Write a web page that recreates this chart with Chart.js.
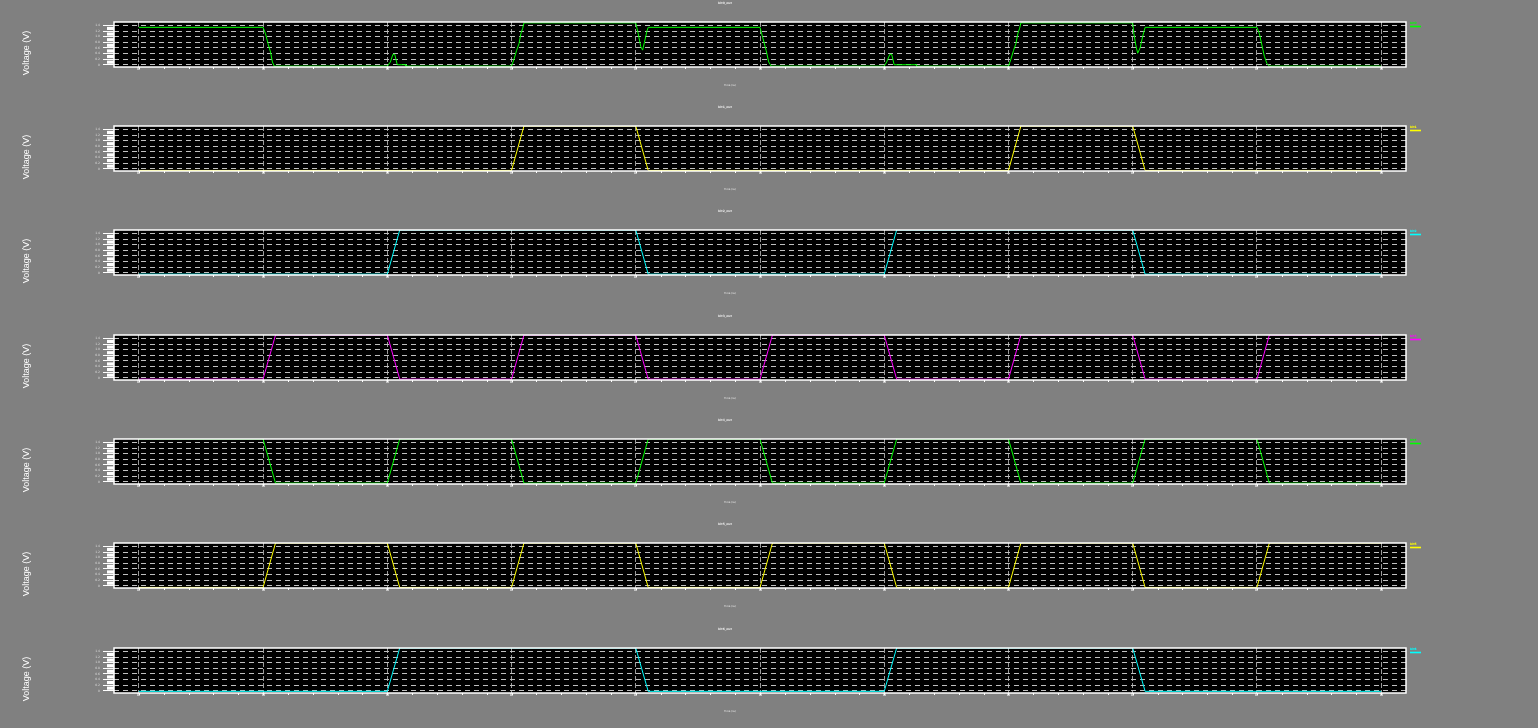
<!DOCTYPE html>
<html><head><meta charset="utf-8">
<script src="https://cdn.jsdelivr.net/npm/chart.js@4/dist/chart.umd.min.js"></script>
<style>
html,body{margin:0;padding:0;background:#808080;width:1538px;height:728px;overflow:hidden;position:relative}
.p{position:absolute;left:0;width:1538px;height:104px}
</style></head><body>
<script>
// ---- data ----
const timeTicks = [0,1,2,3,4,5,6,7,8,9,10];
const voltTicks = [0,0.2,0.4,0.6,0.8,1.0,1.2,1.4];
const titles = ['bit0_out','bit1_out','bit2_out','bit3_out','bit4_out','bit5_out','bit6_out'];
const legendLabels = ['bit0','bit1','bit2','bit3','bit4','bit5','bit6'];

const sig0Time = [0,1.0,1.02,1.04,1.06,1.075,1.09,2.0,2.025,2.045,2.06,2.08,2.15,2.15,3.0,3.02,3.04,3.06,3.075,3.09,3.1,
  4.0,4.02,4.04,4.055,4.07,4.09,4.1,5.0,5.02,5.05,5.07,5.09,6.0,6.02,6.045,6.06,6.08,6.26,6.26,7.0,7.02,7.04,7.06,7.075,7.09,7.1,
  8.0,8.01,8.025,8.04,8.06,8.08,8.1,9.0,9.02,9.04,9.06,9.08,9.1,10.0];
const sig0Volt = [1.33,1.33,1.1,0.75,0.45,0.1,-0.05,-0.05,0.1,0.37,0.37,0.0,0.0,-0.05,-0.05,0.2,0.5,0.75,1.1,1.3,1.49,
  1.49,1.1,0.65,0.52,0.8,1.2,1.33,1.33,1.0,0.5,0.1,-0.05,-0.05,0.1,0.37,0.37,0.0,0.0,-0.05,-0.05,0.2,0.5,0.75,1.1,1.3,1.49,
  1.49,1.1,0.7,0.41,0.6,1.0,1.33,1.33,1.1,0.7,0.3,0.05,-0.05,-0.05];

const sig1Time = [0,3.0,3.1,4.0,4.1,7.0,7.1,8.0,8.1,10.0];
const sig1Volt = [-0.06,-0.06,1.52,1.52,-0.06,-0.06,1.52,1.52,-0.06,-0.06];

const sig2Time = [0,2.0,2.1,4.0,4.1,6.0,6.1,8.0,8.1,10.0];
const sig2Volt = [-0.05,-0.05,1.52,1.52,-0.05,-0.05,1.52,1.52,-0.05,-0.05];

const sig3Time = [0,1.0,1.1,2.0,2.1,3.0,3.1,4.0,4.1,5.0,5.1,6.0,6.1,7.0,7.1,8.0,8.1,9.0,9.1,10.0];
const sig3Volt = [-0.05,-0.05,1.52,1.52,-0.05,-0.05,1.52,1.52,-0.05,-0.05,1.52,1.52,-0.05,-0.05,1.52,1.52,-0.05,-0.05,1.52,1.52];

const sig4Time = [0,1.0,1.1,2.0,2.1,3.0,3.1,4.0,4.1,5.0,5.1,6.0,6.1,7.0,7.1,8.0,8.1,9.0,9.1,10.0];
const sig4Volt = [1.52,1.52,-0.05,-0.05,1.52,1.52,-0.05,-0.05,1.52,1.52,-0.05,-0.05,1.52,1.52,-0.05,-0.05,1.52,1.52,-0.05,-0.05];

const sig5Time = [0,1.0,1.1,2.0,2.1,3.0,3.1,4.0,4.1,5.0,5.1,6.0,6.1,7.0,7.1,8.0,8.1,9.0,9.1,10.0];
const sig5Volt = [-0.06,-0.06,1.52,1.52,-0.06,-0.06,1.52,1.52,-0.06,-0.06,1.52,1.52,-0.06,-0.06,1.52,1.52,-0.06,-0.06,1.52,1.52];

const sig6Time = [0,2.0,2.1,4.0,4.1,6.0,6.1,8.0,8.1,10.0];
const sig6Volt = [-0.02,-0.02,1.52,1.52,-0.02,-0.02,1.52,1.52,-0.02,-0.02];

const signals = [
  [sig0Time, sig0Volt], [sig1Time, sig1Volt], [sig2Time, sig2Volt], [sig3Time, sig3Volt],
  [sig4Time, sig4Volt], [sig5Time, sig5Volt], [sig6Time, sig6Volt]
];
const colors = ['#00ff00','#ffff00','#00ffff','#ff00ff','#00ff00','#ffff00','#00ffff'];
const tops = [0,104,208,313,417,521,626];

// ---- decoration plugin ----
const deco = {
  id: 'deco',
  beforeDraw(chart) {
    const {ctx, chartArea: a} = chart;
    ctx.save();
    ctx.fillStyle = '#000';
    ctx.fillRect(a.left, a.top, a.right - a.left, a.bottom - a.top);
    ctx.restore();
  },
  afterDraw(chart, args, opts) {
    const {ctx, chartArea: a} = chart;
    const xs = chart.scales.x, ys = chart.scales.y;
    ctx.save();
    // y minor ticks (white blocks)
    ctx.fillStyle = '#ffffff';
    for (let i = 0; i < voltTicks.length - 1; i++) {
      const p0 = ys.getPixelForValue(voltTicks[i]);
      const p1 = ys.getPixelForValue(voltTicks[i + 1]);
      ctx.fillRect(a.left - 7, p1 + 1.5, 7, p0 - p1 - 2.5);
    }
    // x minor ticks
    ctx.strokeStyle = '#ffffff';
    ctx.lineWidth = 1;
    for (let v = 0; v <= 10.001; v += 0.2) {
      const x = Math.round(xs.getPixelForValue(v)) + 0.5;
      ctx.beginPath(); ctx.moveTo(x, a.bottom); ctx.lineTo(x, a.bottom + 2); ctx.stroke();
    }
    // frame
    ctx.strokeStyle = '#ffffff';
    ctx.lineWidth = 1.5;
    ctx.strokeRect(a.left, a.top, a.right - a.left, a.bottom - a.top);
    // legend
    ctx.strokeStyle = opts.color;
    ctx.lineWidth = 1.6;
    ctx.beginPath(); ctx.moveTo(a.right + 4, a.top + 4.5); ctx.lineTo(a.right + 15, a.top + 4.5); ctx.stroke();
    ctx.fillStyle = opts.color;
    ctx.font = 'bold 3px "DejaVu Sans"';
    ctx.textBaseline = 'alphabetic';
    ctx.textAlign = 'left';
    ctx.fillText(opts.legend, a.right + 4, a.top + 2);
    // title
    ctx.fillStyle = '#e8e8e8';
    ctx.textAlign = 'center';
    ctx.font = 'bold 3px "DejaVu Sans"';
    ctx.fillText(opts.title, 725, 4);
    // x label
    ctx.font = '2.5px "DejaVu Sans"';
    ctx.fillText('Time (ns)', 730, a.bottom + 19);
    // y label
    ctx.translate(26.5, a.top + 31);
    ctx.rotate(-Math.PI / 2);
    ctx.font = '9px "Liberation Sans"';
    ctx.textBaseline = 'middle';
    ctx.fillStyle = '#ffffff';
    ctx.fillText('Voltage (V)', 0, 0);
    ctx.restore();
  }
};

signals.forEach((sig, i) => {
  const div = document.createElement('div');
  div.className = 'p';
  div.style.top = tops[i] + 'px';
  const cv = document.createElement('canvas');
  cv.width = 1538; cv.height = 104;
  div.appendChild(cv);
  document.body.appendChild(div);
  const pts = sig[0].map((t, k) => ({x: t, y: sig[1][k]}));
  new Chart(cv, {
    type: 'line',
    data: {datasets: [{label: legendLabels[i], data: pts, borderColor: colors[i], borderWidth: 1,
      pointRadius: 0, tension: 0, fill: false}]},
    options: {
      responsive: false, animation: false, devicePixelRatio: 1,
      layout: {padding: {left: 0, top: 22, right: 132, bottom: 37}},
      plugins: {legend: {display: false}, tooltip: {enabled: false},
        deco: {color: colors[i], legend: legendLabels[i], title: titles[i]}},
      scales: {
        x: {type: 'linear', min: -0.2, max: 10.2,
          afterFit: s => { s.height = 0; },
          afterBuildTicks: s => { s.ticks = timeTicks.map(v => ({value: v})); },
          ticks: {display: false, autoSkip: false},
          grid: {color: '#9a9a9a', lineWidth: 1, drawTicks: true, tickLength: 3, tickColor: '#c0c0c0', tickWidth: 3},
          border: {display: false, dash: [5, 2]}},
        y: {type: 'linear', min: -0.08, max: 1.52,
          afterFit: s => { s.width = 114; },
          afterBuildTicks: s => { s.ticks = voltTicks.map(v => ({value: v})); },
          ticks: {display: true, autoSkip: false, color: '#dddddd', font: {size: 3, family: 'DejaVu Sans'}, padding: 3},
          grid: {color: '#c0c0c0', lineWidth: 1, drawTicks: true, tickLength: 11, tickColor: '#ffffff', tickWidth: 1},
          border: {display: false, dash: [5, 4]}}
      }
    },
    plugins: [deco]
  });
});
</script>
</body></html>
